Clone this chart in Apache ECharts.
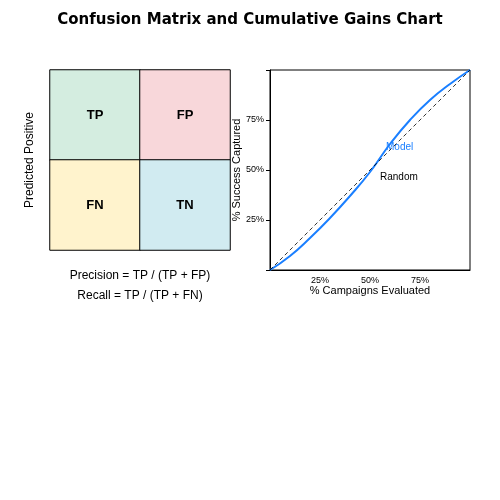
<!DOCTYPE html><html><head><meta charset="utf-8"><script src="https://cdn.jsdelivr.net/npm/echarts@6/dist/echarts.min.js"></script></head><body style="margin:0"><div id="c" style="width:500px;height:500px"></div><script>
const cellLabels=['TP','FP','FN','TN'];
const cellColors=['#d4ede0','#f8d7da','#fff3cd','#d1ebf1'];
const gainX=[0,0.1,0.2,0.3,0.4,0.5,0.6,0.7,0.8,0.9,1];
const gainModel=[0,0.07,0.16,0.26,0.37,0.49,0.63,0.75,0.85,0.93,1];
const randomLine=[[0,0],[1,1]];
const pctTicks=[0.25,0.5,0.75];
const cells=[[0,1],[1,1],[0,0],[1,0]];
const ch=echarts.init(document.getElementById('c'));
ch.setOption({animation:false,
title:{text:'Confusion Matrix and Cumulative Gains Chart',left:'center',top:8,textStyle:{fontSize:15,fontWeight:'bold',color:'#000',fontFamily:'DejaVu Sans'}},
grid:[{left:50,top:70,width:180,height:180},{left:270,top:70,width:200,height:200}],
xAxis:[{gridIndex:0,type:'category',data:['a','b'],show:false},
{gridIndex:1,type:'value',min:0,max:1,interval:0.25,name:'% Campaigns Evaluated',nameLocation:'middle',nameGap:10,nameTextStyle:{color:'#000',fontSize:11},
axisLine:{onZero:false,lineStyle:{color:'#000'}},axisTick:{show:false},splitLine:{show:false},
axisLabel:{fontSize:9,color:'#000',margin:6,formatter:v=>pctTicks.includes(v)?Math.round(v*100)+'%':''}}],
yAxis:[{gridIndex:0,type:'category',data:['n','p'],show:false},
{gridIndex:1,type:'value',min:0,max:1,interval:0.25,name:'% Success Captured',nameLocation:'middle',nameGap:22,nameTextStyle:{color:'#000',fontSize:11},
axisLine:{onZero:false,lineStyle:{color:'#000'}},axisTick:{show:true,length:4,lineStyle:{color:'#000'}},splitLine:{show:false},
axisLabel:{fontSize:9,color:'#000',margin:6,formatter:v=>pctTicks.includes(v)?Math.round(v*100)+'%':''}}],
series:[{type:'heatmap',xAxisIndex:0,yAxisIndex:0,
data:cells.map((c,i)=>({value:[c[0],c[1],i],itemStyle:{color:cellColors[i],borderColor:'#000',borderWidth:1},label:{show:true,formatter:cellLabels[i],fontWeight:'bold',fontSize:13,color:'#000'}}))},
{type:'line',xAxisIndex:1,yAxisIndex:1,data:gainX.map((x,i)=>[x,gainModel[i]]),smooth:true,showSymbol:false,lineStyle:{color:'#1a7fff',width:2}},
{type:'line',xAxisIndex:1,yAxisIndex:1,data:randomLine,showSymbol:false,lineStyle:{color:'#000',width:0.8,type:[4,3]}}],
graphic:[
{type:'rect',shape:{x:270,y:70,width:200,height:200},style:{fill:'none',stroke:'#000',lineWidth:1}},
{type:'text',x:30,y:160,rotation:Math.PI/2,style:{text:'Predicted Positive',fill:'#000',fontSize:12,align:'center',verticalAlign:'middle'},origin:[0,0],left:null},
{type:'text',x:386,y:147,style:{text:'Model',fill:'#1a7fff',fontSize:10,verticalAlign:'middle'}},
{type:'text',x:380,y:177,style:{text:'Random',fill:'#000',fontSize:10,verticalAlign:'middle'}},
{type:'text',x:140,y:276,style:{text:'Precision = TP / (TP + FP)',fill:'#000',fontSize:12,align:'center',verticalAlign:'middle'}},
{type:'text',x:140,y:296,style:{text:'Recall = TP / (TP + FN)',fill:'#000',fontSize:12,align:'center',verticalAlign:'middle'}}
]});
</script></body></html>
